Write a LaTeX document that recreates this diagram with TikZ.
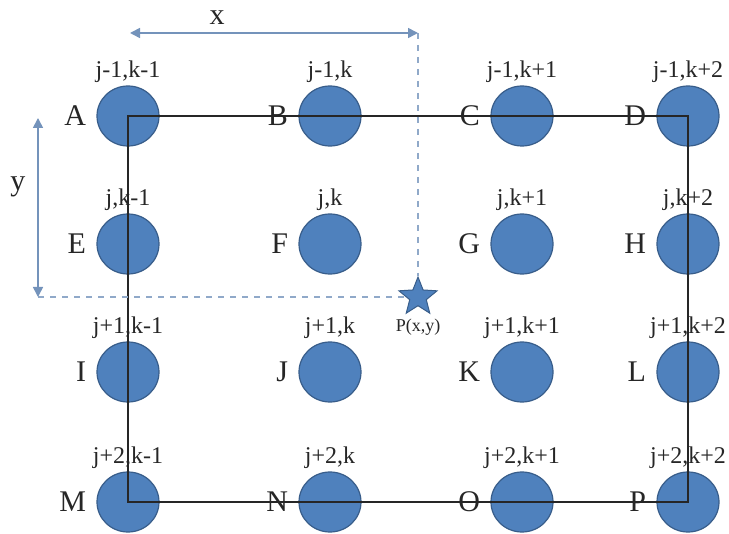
\documentclass[tikz,border=0pt]{standalone}
\usepackage{fontspec}
\setmainfont{Liberation Serif}
\usetikzlibrary{shapes.geometric, arrows.meta, positioning}
\definecolor{cDot}{HTML}{4F81BD}
\definecolor{cDotEdge}{HTML}{385D8A}
\definecolor{cGuide}{HTML}{7493BB}
\definecolor{cText}{HTML}{262626}

\begin{document}
\begin{tikzpicture}[
  x=0.5pt, y=-0.5pt,
  dot/.style={ellipse, draw=cDotEdge, fill=cDot, line width=0.6pt,
    minimum width=31pt, minimum height=30pt, inner sep=0pt},
  idx/.style={font=\fontsize{12}{12}\selectfont, text=cText, inner sep=0pt, label distance=1pt},
  ltr/.style={font=\fontsize{15}{15}\selectfont, text=cText, inner sep=0pt, label distance=5pt},
  dim/.style={cGuide, line width=0.8pt, {Triangle[length=5pt,width=5pt]}-{Triangle[length=5pt,width=5pt]}},
  guide/.style={cGuide!80, line width=0.6pt, dashed}
]
  \useasboundingbox (0,0) rectangle (729,534);

  % grid points
  \node[dot, label={[idx]above:j-1,k-1}, label={[ltr]left:A}] (A) at (128,116) {};
  \node[dot, label={[idx]above:j-1,k},   label={[ltr]left:B}] (B) at (330,116) {};
  \node[dot, label={[idx]above:j-1,k+1}, label={[ltr]left:C}] (C) at (522,116) {};
  \node[dot, label={[idx]above:j-1,k+2}, label={[ltr]left:D}] (D) at (688,116) {};

  \node[dot, label={[idx]above:j,k-1}, label={[ltr]left:E}] (E) at (128,244) {};
  \node[dot, label={[idx]above:j,k},   label={[ltr]left:F}] (F) at (330,244) {};
  \node[dot, label={[idx]above:j,k+1}, label={[ltr]left:G}] (G) at (522,244) {};
  \node[dot, label={[idx]above:j,k+2}, label={[ltr]left:H}] (H) at (688,244) {};

  \node[dot, label={[idx]above:j+1,k-1}, label={[ltr]left:I}] (I) at (128,372) {};
  \node[dot, label={[idx]above:j+1,k},   label={[ltr]left:J}] (J) at (330,372) {};
  \node[dot, label={[idx]above:j+1,k+1}, label={[ltr]left:K}] (K) at (522,372) {};
  \node[dot, label={[idx]above:j+1,k+2}, label={[ltr]left:L}] (L) at (688,372) {};

  \node[dot, label={[idx]above:j+2,k-1}, label={[ltr]left:M}] (M) at (128,502) {};
  \node[dot, label={[idx]above:j+2,k},   label={[ltr]left:N}] (N) at (330,502) {};
  \node[dot, label={[idx]above:j+2,k+1}, label={[ltr]left:O}] (O) at (522,502) {};
  \node[dot, label={[idx]above:j+2,k+2}, label={[ltr]left:P}] (P) at (688,502) {};

  % cell outline
  \draw[line width=0.8pt, black!85] (A.center) -- (D.center) -- (P.center) -- (M.center) -- cycle;

  % point P(x,y)
  \node[star, star points=5, star point ratio=2.3, minimum size=20pt, inner sep=0pt,
    draw=cDotEdge, fill=cDot, line width=0.5pt,
    label={[font=\fontsize{9}{9}\selectfont, text=cText, inner sep=0pt, label distance=6pt]below:P(x,y)}] (Pxy) at (418,297) {};

  \coordinate (xL) at (130,33);
  \coordinate (xR) at (Pxy |- xL);
  \coordinate (yT) at (38,118);
  \coordinate (yB) at (yT |- Pxy);

  \draw[guide] (xR) -- (Pxy);
  \draw[guide] (yB) -- (Pxy);
  \draw[dim] (xL) -- (xR);
  \draw[dim] (yT) -- (yB);

  \node[ltr] (xlab) at (217,18) {x};
  \node[ltr] (ylab) at (18,187) {y};
\end{tikzpicture}
\end{document}
